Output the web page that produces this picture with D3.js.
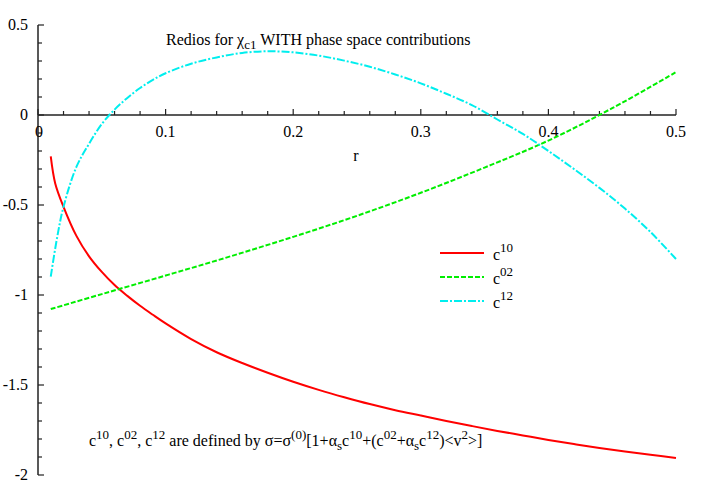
<!DOCTYPE html>
<html>
<head>
<meta charset="utf-8">
<script src="https://cdn.jsdelivr.net/npm/d3@7"></script>
<style>
  body { margin: 0; background: #fff; }
  text { font-family: "Liberation Serif", "Times New Roman", serif; fill: #000; }
</style>
</head>
<body>
<div id="chart"></div>
<script>
// values
var rC10 = [0.01, 0.0135, 0.02, 0.03, 0.04, 0.05, 0.06, 0.07, 0.08, 0.09, 0.1, 0.12, 0.14, 0.16, 0.18, 0.2, 0.22, 0.24, 0.26, 0.28, 0.3, 0.32, 0.34, 0.36, 0.38, 0.4, 0.42, 0.44, 0.46, 0.48, 0.5];
var c10 = [-0.23, -0.38, -0.51, -0.67, -0.785, -0.872, -0.945, -1.005, -1.06, -1.11, -1.158, -1.245, -1.318, -1.378, -1.432, -1.482, -1.527, -1.568, -1.606, -1.64, -1.67, -1.70, -1.728, -1.755, -1.78, -1.805, -1.828, -1.85, -1.87, -1.888, -1.905];

var rC02 = [0.01, 0.05, 0.1, 0.15, 0.2, 0.25, 0.3, 0.35, 0.4, 0.45, 0.5];
var c02 = [-1.078, -0.995, -0.892, -0.787, -0.677, -0.56, -0.432, -0.292, -0.142, 0.038, 0.238];

var rC12 = [0.01, 0.015, 0.02, 0.03, 0.04, 0.05, 0.06, 0.07, 0.08, 0.09, 0.1, 0.12, 0.14, 0.16, 0.18, 0.2, 0.22, 0.24, 0.26, 0.28, 0.3, 0.32, 0.34, 0.36, 0.38, 0.4, 0.42, 0.44, 0.46, 0.48, 0.5];
var c12 = [-0.898, -0.68, -0.51, -0.29, -0.16, -0.05, 0.03, 0.095, 0.15, 0.195, 0.232, 0.285, 0.32, 0.345, 0.354, 0.348, 0.33, 0.302, 0.268, 0.225, 0.176, 0.118, 0.055, -0.025, -0.105, -0.2, -0.3, -0.405, -0.52, -0.65, -0.80];

var xTicks = [0, 0.1, 0.2, 0.3, 0.4, 0.5];
var yTicks = [0.5, 0, -0.5, -1, -1.5, -2];

var width = 714, height = 500;
var x = d3.scaleLinear().domain([0, 0.5]).range([38, 676]),
    y = d3.scaleLinear().domain([-2, 0.5]).range([475, 25]);

var svg = d3.select("#chart").append("svg")
    .attr("width", width)
    .attr("height", height);

// y axis, with minor ticks every 0.1
svg.append("line")
   .attr("x1", x(0)).attr("x2", x(0))
   .attr("y1", y(0.5)).attr("y2", y(-2))
   .attr("stroke", "#222").attr("stroke-width", 1.5);

d3.range(-20, 6).forEach(function(i) {
    var v = i / 10, major = (i % 5 === 0);
    svg.append("line")
       .attr("x1", x(0)).attr("x2", x(0) + (major ? 6 : 4))
       .attr("y1", y(v)).attr("y2", y(v))
       .attr("stroke", "#222").attr("stroke-width", 1.2);
});

svg.selectAll(".ylab").data(yTicks).enter().append("text")
   .attr("class", "ylab")
   .attr("x", 28)
   .attr("y", function(d) { return y(d) + 5; })
   .attr("text-anchor", "end")
   .style("font-size", "16px")
   .text(function(d) { return d; });

// x axis at zero, ticks pointing up
svg.append("line")
   .attr("x1", x(0)).attr("x2", x(0.5))
   .attr("y1", y(0)).attr("y2", y(0))
   .attr("stroke", "#222").attr("stroke-width", 1.5);

d3.range(0, 26).forEach(function(i) {
    var v = i / 50, major = (i % 5 === 0);
    svg.append("line")
       .attr("x1", x(v)).attr("x2", x(v))
       .attr("y1", y(0)).attr("y2", y(0) - (major ? 6 : 4))
       .attr("stroke", "#222").attr("stroke-width", 1.2);
});

svg.selectAll(".xlab").data(xTicks).enter().append("text")
   .attr("class", "xlab")
   .attr("x", function(d) { return x(d) + (d === 0 ? 1 : 0); })
   .attr("y", y(0) + 22)
   .attr("text-anchor", "middle")
   .style("font-size", "16px")
   .text(function(d) { return d; });

svg.append("text")
   .attr("x", 356).attr("y", 161)
   .attr("text-anchor", "middle")
   .style("font-size", "16px")
   .text("r");

// curves
var line = d3.line()
    .x(function(d) { return x(d[0]); })
    .y(function(d) { return y(d[1]); })
    .curve(d3.curveCatmullRom.alpha(0.5));

var series = [
    {name: "10", r: rC10, v: c10, color: "#ff0000", dash: null},
    {name: "02", r: rC02, v: c02, color: "#00ee00", dash: "5,2"},
    {name: "12", r: rC12, v: c12, color: "#00eeee", dash: "8,2,2,2"}
];

series.forEach(function(s) {
    svg.append("path")
       .datum(d3.zip(s.r, s.v))
       .attr("fill", "none")
       .attr("stroke", s.color)
       .attr("stroke-width", 2)
       .attr("stroke-dasharray", s.dash)
       .attr("d", line);
});

// legend
series.forEach(function(s, i) {
    var ly = 253 + i * 24;
    svg.append("line")
       .attr("x1", 440).attr("x2", 484)
       .attr("y1", ly).attr("y2", ly)
       .attr("stroke", s.color)
       .attr("stroke-width", 2)
       .attr("stroke-dasharray", s.dash);
    var t = svg.append("text")
       .attr("x", 493).attr("y", ly + 7)
       .style("font-size", "16px");
    t.append("tspan").text("c");
    t.append("tspan").attr("dy", -8).style("font-size", "13px").text(s.name);
});

// title
var title = svg.append("text")
   .attr("x", 166).attr("y", 45)
   .style("font-size", "16px");
title.append("tspan").text("Redios for \u03c7");
title.append("tspan").attr("dy", 4).style("font-size", "13px").text("c1");
title.append("tspan").attr("dy", -4).text(" WITH phase space contributions");

// definition note
var note = svg.append("text")
   .attr("x", 89).attr("y", 446)
   .style("font-size", "16px");
function sup(txt) { note.append("tspan").attr("dy", -7).style("font-size", "13px").text(txt); }
function sub(txt) { note.append("tspan").attr("dy", 4).style("font-size", "13px").text(txt); }
function base(txt, dy) { note.append("tspan").attr("dy", dy || 0).text(txt); }
base("c"); sup("10"); base(", c", 7); sup("02"); base(", c", 7); sup("12");
base(" are defined by \u03c3=\u03c3", 7); sup("(0)");
base("[1+\u03b1", 7); sub("s"); base("c", -4); sup("10");
base("+(c", 7); sup("02"); base("+\u03b1", 7); sub("s"); base("c", -4); sup("12");
base(")<v", 7); sup("2"); base(">]", 7);
</script>
</body>
</html>
